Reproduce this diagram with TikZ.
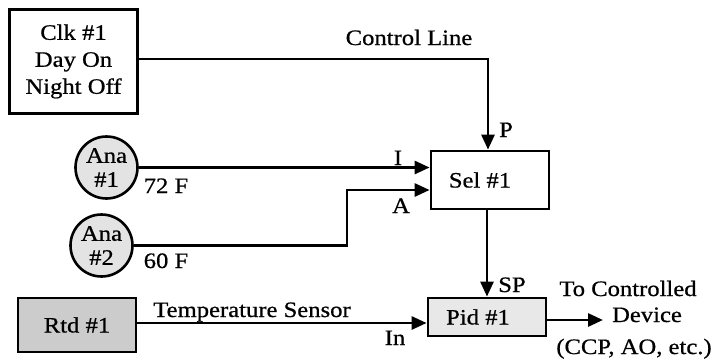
\documentclass[tikz,border=0pt]{standalone}
\usepackage{fontspec}
\setmainfont{Liberation Serif}[FakeStretch=1.12, FakeBold=0.7]
\usetikzlibrary{arrows.meta}
\begin{document}
\begin{tikzpicture}[x=1pt,y=-1pt,
  every node/.style={font=\fontsize{22}{27}\selectfont, inner sep=0pt},
  box/.style={draw, line width=2.8pt, rectangle, align=center},
  ana/.style={draw, circle, line width=2.6pt, fill=gray!22, minimum size=62pt, align=center, font=\fontsize{22}{24}\selectfont},
  wire/.style={line width=2.8pt},
  arr/.style={wire, -{Triangle[length=15pt,width=13pt]}},
  lab/.style={anchor=base}]
\useasboundingbox (0,0) rectangle (718,362);

% blocks
\node[box, minimum width=128pt, minimum height=104pt] (clk) at (73.5,61.5) {Clk \#1\\Day On\\Night Off};
\node[box, minimum width=118pt, minimum height=58pt] (sel) at (490,180) {Sel \#1\hspace*{20pt}};
\node[box, fill=gray!18, minimum width=118pt, minimum height=38pt] (pid) at (487,317) {Pid \#1\hspace*{18pt}};
\node[box, fill=gray!40, minimum width=118pt, minimum height=54pt] (rtd) at (77,325) {Rtd \#1};
\node[ana] (ana1) at (106.5,167.5) {Ana\\\#1};
\node[ana] (ana2) at (101.5,245.5) {Ana\\\#2};

% connectors
\draw[arr] ([yshift=2.5pt]clk.east) -| ([xshift=-2pt]sel.north);
\draw[arr] (ana1.east) -- (ana1.east -| sel.west);
\coordinate (bend) at (347,245);
\draw[arr] (ana2.east) -- (ana2.east -| bend) |- ([yshift=-10pt]sel.west);
\draw[arr] (pid.north |- sel.south) -- (pid.north);
\draw[arr] ([yshift=2pt]rtd.east) -- ([yshift=2pt]rtd.east -| pid.west);
\coordinate (out) at (603,320);
\draw[arr] ([yshift=-3pt]pid.east) -- (out);

% labels
\node[lab] (tctl) at (409,45) {Control Line};
\node[lab] (tp) at (506,137) {P};
\node[lab] (ti) at (398,165) {I};
\node[lab] (ta) at (401,213) {A};
\node[lab] (tsp) at (512,292) {SP};
\node[lab] (t72) at (166,193) {72 F};
\node[lab] (t60) at (166,268) {60 F};
\node[lab] (ttemp) at (252,317) {Temperature Sensor};
\node[lab] (tin) at (395,345) {In};
\node[lab] (tto1) at (628,296) {To Controlled};
\node[lab] (tto2) at (647,322) {Device};
\node[lab] (tto3) at (634,354) {(CCP, AO, etc.)};
\end{tikzpicture}
\end{document}
